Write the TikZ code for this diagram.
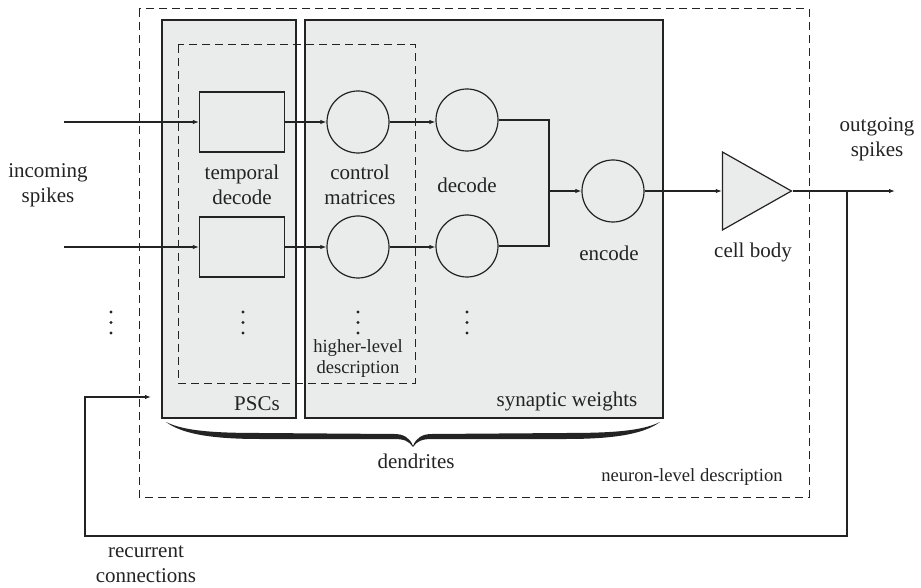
\documentclass[tikz,border=0pt]{standalone}
\usepackage{fontspec}
\setmainfont{Liberation Serif}
\usetikzlibrary{positioning,calc,arrows.meta,shapes.geometric}
\definecolor{panel}{RGB}{234,235,235}
\definecolor{ink}{RGB}{35,35,35}
\tikzset{
  lbl/.style={align=center,font=\fontsize{10.5}{12.5}\selectfont,text=ink,inner sep=0pt},
  smalllbl/.style={align=center,font=\fontsize{9.3}{10.5}\selectfont,text=ink,inner sep=0pt},
  panelbox/.style={draw=ink,fill=panel,line width=0.65pt},
  groupbox/.style={draw=ink,line width=0.5pt,dash pattern=on 4pt off 2.5pt},
  pscnode/.style={rectangle,draw=ink,line width=0.6pt,minimum width=42.5pt,minimum height=30pt,inner sep=0pt},
  unitnode/.style={circle,draw=ink,line width=0.6pt,minimum size=31pt,inner sep=0pt},
  somanode/.style={isosceles triangle,isosceles triangle stretches,draw=ink,fill=panel,
    line width=0.6pt,minimum width=39pt,minimum height=34.5pt,inner sep=0pt},
  wire/.style={draw=ink,line width=0.55pt},
  arr/.style={wire,-{Latex[length=3pt,width=2.2pt]}}
}

\begin{document}
\begin{tikzpicture}[x=0.5pt,y=-0.5pt]
  \useasboundingbox (0,0) rectangle (921,588);

  \draw[groupbox] (139,9) rectangle (809,497);
  \draw[panelbox] (162,20) rectangle (296,418);
  \draw[panelbox] (305,20) rectangle (663,418);
  \draw[groupbox] (178,45) rectangle (415,383);

  \node[pscnode] (td1) at (242,122) {};
  \node[pscnode] (td2) at (242,247) {};
  \node[unitnode] (cm1) at (358,122) {};
  \node[unitnode] (cm2) at (358,247) {};
  \node[unitnode] (dc1) at (467,120) {};
  \node[unitnode] (dc2) at (467,246) {};
  \node[unitnode] (enc) at (613,191) {};
  \node[somanode,anchor=apex] (soma) at (793,191) {};

  \coordinate (in1) at (64,122);
  \coordinate (in2) at (64,247);
  \coordinate (join) at (549,191);
  \coordinate (tap) at (847,191);
  \coordinate (outend) at (895,191);
  \coordinate (fbcorner) at (85,536);
  \coordinate (recin) at (151,397);

  \draw[arr] (in1) -- (td1);
  \draw[arr] (in2) -- (td2);
  \draw[arr] (td1) -- (cm1);
  \draw[arr] (td2) -- (cm2);
  \draw[arr] (cm1) -- (dc1.west |- cm1);
  \draw[arr] (cm2) -- (dc2.west |- cm2);
  \draw[wire] (dc1.east) -| (join);
  \draw[wire] (dc2.east) -| (join);
  \draw[arr] (join) -- (enc);
  \draw[arr] (enc) -- (soma.lower side);
  \draw[arr] (soma.apex) -- (outend);
  \draw[arr] (tap) |- (fbcorner) |- (recin);

  \foreach \x in {111,243,358,467}
    \fill[ink] (\x,312) circle[radius=0.8pt] (\x,322.5) circle[radius=0.8pt] (\x,333) circle[radius=0.8pt];

  \fill[ink] (166,422) .. controls (184,431) and (214,433) .. (260,433) -- (394,434)
    .. controls (404,434) and (410,438) .. (413,446)
    .. controls (416,438) and (422,434) .. (432,434) -- (566,433)
    .. controls (612,433) and (642,431) .. (660,422)
    .. controls (644,434) and (614,439) .. (566,439) -- (432,439)
    .. controls (422,439) and (417,441) .. (413,447)
    .. controls (409,441) and (404,439) .. (394,439) -- (260,439)
    .. controls (212,439) and (182,434) .. (166,422) -- cycle;

  \node[lbl] (inlbl) at (48,185) {incoming\\spikes};
  \node[lbl] (tdlbl) at (242,185) {temporal\\decode};
  \node[lbl] (cmlbl) at (360,185) {control\\matrices};
  \node[lbl] (dclbl) at (467,185) {decode};
  \node[lbl] (enclbl) at (609,253) {encode};
  \node[lbl] (somalbl) at (753,252) {cell body};
  \node[lbl] (outlbl) at (877,139) {outgoing\\spikes};
  \node[smalllbl] (hllbl) at (358,359) {higher-level\\description};
  \node[lbl] (psclbl) at (257,404) {PSCs};
  \node[lbl] (synlbl) at (567,401) {synaptic weights};
  \node[lbl] (dendlbl) at (416,461) {dendrites};
  \node[smalllbl] (nllbl) at (692,477) {neuron-level description};
  \node[lbl] (reclbl) at (146,564) {recurrent\\connections};
\end{tikzpicture}
\end{document}
